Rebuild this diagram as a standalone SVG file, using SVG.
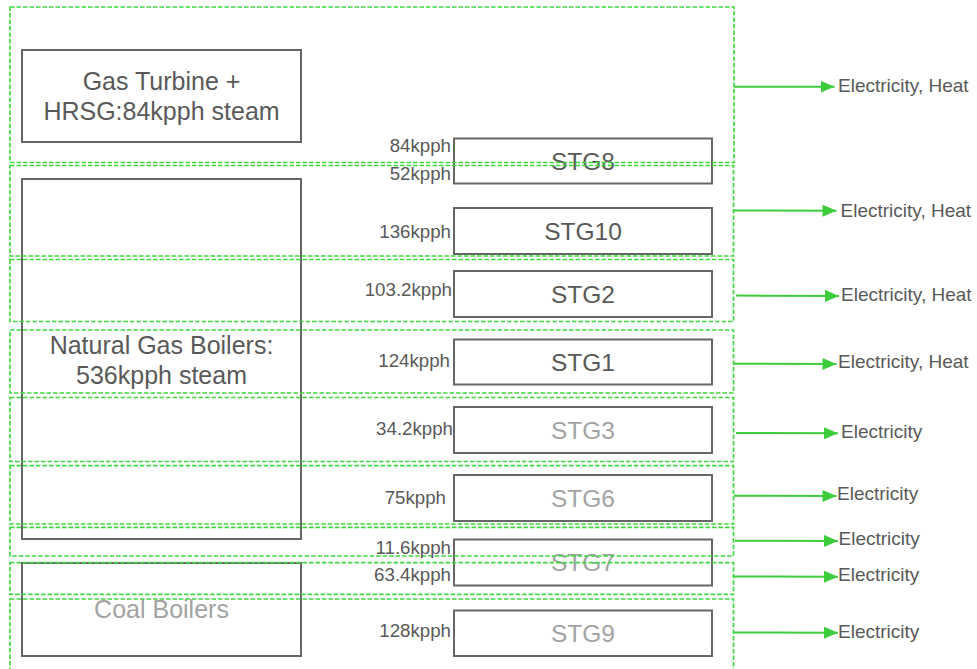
<svg xmlns="http://www.w3.org/2000/svg" width="977" height="669" viewBox="0 0 977 669">
<defs>
<style>
.grp{fill:none;stroke:#40d840;stroke-width:1.7;stroke-dasharray:4.5 2}
.boxn{fill:none;stroke:#666;stroke-width:2}
text{font-family:"Liberation Sans",Arial,sans-serif}
.big{font-size:25px;fill:#595959;text-anchor:middle}
.bigl{font-size:25px;fill:#a3a3a3;text-anchor:middle}
.stg{font-size:24.5px;fill:#595959;text-anchor:middle}
.stgl{font-size:24.5px;fill:#a3a3a3;text-anchor:middle}
.flow{font-size:18.7px;fill:#595959;text-anchor:end}
.out{font-size:19px;fill:#595959}
.arr{stroke:#3ccc3c;stroke-width:2;fill:none;marker-end:url(#ah)}
</style>
<marker id="ah" markerUnits="userSpaceOnUse" markerWidth="15" markerHeight="13" refX="14" refY="6" orient="auto">
<path d="M0,0 L14,6 L0,12 z" fill="#3ccc3c"/>
</marker>
</defs>
<rect width="977" height="669" fill="#fff"/>

<g id="sources">
<g id="gas-turbine">
<rect class="boxn" x="22" y="50" width="279" height="92"/>
<text class="big" x="161.5" y="90">Gas Turbine +</text>
<text class="big" x="161.5" y="120">HRSG:84kpph steam</text>
</g>
<g id="ng-boilers">
<rect class="boxn" x="22" y="179" width="279" height="360"/>
<text class="big" x="161.5" y="353.5">Natural Gas Boilers:</text>
<text class="big" x="161.5" y="383.5">536kpph steam</text>
</g>
<g id="coal-boilers">
<rect class="boxn" x="22" y="563" width="279" height="93"/>
<text class="bigl" x="161.5" y="618">Coal Boilers</text>
</g>
</g>

<g id="turbines">
<g id="stg8"><rect class="boxn" x="454" y="138.5" width="258" height="45"/><text class="stg" x="583" y="170">STG8</text></g>
<g id="stg10"><rect class="boxn" x="454" y="208" width="258" height="46"/><text class="stg" x="583" y="239.5">STG10</text></g>
<g id="stg2"><rect class="boxn" x="454" y="271" width="258" height="46"/><text class="stg" x="583" y="302.5">STG2</text></g>
<g id="stg1"><rect class="boxn" x="454" y="339.5" width="258" height="45"/><text class="stg" x="583" y="371">STG1</text></g>
<g id="stg3"><rect class="boxn" x="454" y="407" width="258" height="46"/><text class="stgl" x="583" y="439">STG3</text></g>
<g id="stg6"><rect class="boxn" x="454" y="475" width="258" height="46"/><text class="stgl" x="583" y="506.5">STG6</text></g>
<g id="stg7"><rect class="boxn" x="454" y="539.5" width="258" height="46"/><text class="stgl" x="583" y="571">STG7</text></g>
<g id="stg9"><rect class="boxn" x="454" y="610.5" width="258" height="45.5"/><text class="stgl" x="583" y="642">STG9</text></g>
</g>

<g id="groups">
<rect class="grp" x="10" y="7" width="724" height="155.5"/>
<rect class="grp" x="10" y="165.5" width="723.5" height="90.5"/>
<rect class="grp" x="10" y="259.5" width="723.5" height="62"/>
<rect class="grp" x="10" y="330" width="723.5" height="63"/>
<rect class="grp" x="10" y="397.5" width="723.5" height="64"/>
<rect class="grp" x="10" y="465.7" width="723.5" height="58.3"/>
<rect class="grp" x="10" y="527.3" width="723.5" height="28.7"/>
<rect class="grp" x="10" y="562.7" width="723.5" height="31.6"/>
<rect class="grp" x="10" y="599" width="723.5" height="80"/>
</g>

<g id="flow-labels">
<text class="flow" x="451" y="152">84kpph</text>
<text class="flow" x="451" y="180">52kpph</text>
<text class="flow" x="451" y="237.5">136kpph</text>
<text class="flow" x="452" y="296">103.2kpph</text>
<text class="flow" x="450" y="366.5">124kpph</text>
<text class="flow" x="453" y="434.5">34.2kpph</text>
<text class="flow" x="446" y="503.5">75kpph</text>
<text class="flow" x="451" y="553.5">11.6kpph</text>
<text class="flow" x="451" y="581">63.4kpph</text>
<text class="flow" x="451" y="637">128kpph</text>
</g>

<g id="connectors">
<line class="arr" x1="734" y1="86.7" x2="834.5" y2="86.7"/>
<line class="arr" x1="734" y1="210.5" x2="836.5" y2="210.7"/>
<line class="arr" x1="736" y1="295.5" x2="839" y2="296"/>
<line class="arr" x1="734" y1="363.7" x2="836.5" y2="364"/>
<line class="arr" x1="736" y1="433" x2="838" y2="433.3"/>
<line class="arr" x1="734" y1="495.7" x2="836.5" y2="496"/>
<line class="arr" x1="735" y1="540.7" x2="838" y2="541"/>
<line class="arr" x1="734" y1="576.5" x2="838" y2="576.7"/>
<line class="arr" x1="734" y1="632.5" x2="838" y2="632.7"/>
</g>

<g id="outputs">
<text class="out" x="838" y="92">Electricity, Heat</text>
<text class="out" x="840.5" y="216.5">Electricity, Heat</text>
<text class="out" x="841" y="301">Electricity, Heat</text>
<text class="out" x="838" y="367.5">Electricity, Heat</text>
<text class="out" x="841" y="437.5">Electricity</text>
<text class="out" x="837" y="499.5">Electricity</text>
<text class="out" x="838.5" y="545">Electricity</text>
<text class="out" x="838" y="581">Electricity</text>
<text class="out" x="838" y="637.5">Electricity</text>
</g>
</svg>
